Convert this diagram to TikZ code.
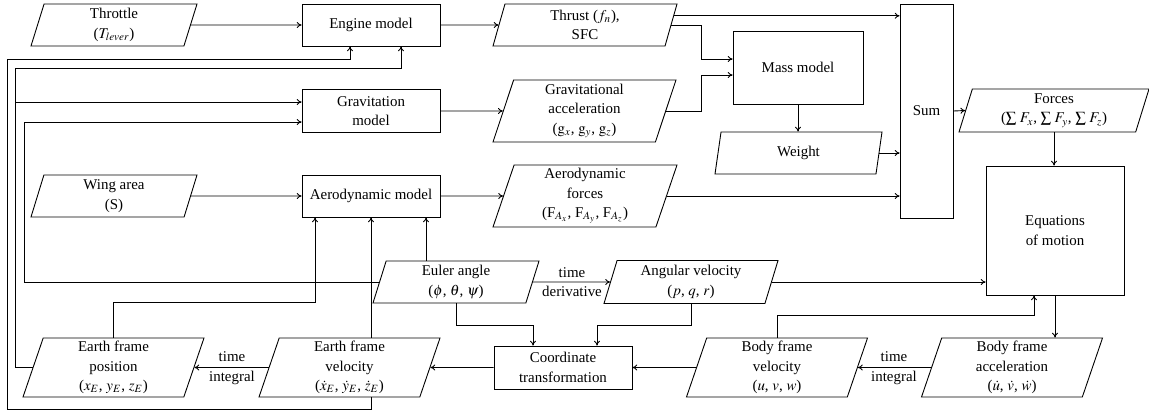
\documentclass[tikz,border=0pt]{standalone}
\usepackage{mathptmx}
\usepackage{fontspec}
\setmainfont{Liberation Serif}
\usetikzlibrary{shapes.geometric,calc,arrows.meta}
\newcommand\pxu[1]{#1*0.67pt}
\tikzset{
  txt/.style={font=\fontsize{10}{13}\selectfont, align=center},
  box/.style={txt, draw, rectangle, inner sep=1pt, line width=0.6pt},
  para/.style={txt, draw, trapezium, trapezium left angle=70, trapezium right angle=110,
    trapezium stretches body, inner sep=1pt, line width=0.6pt},
  lbl/.style={txt, inner sep=1pt},
  arr/.style={-{To[length=3.2pt,width=4pt]}, line width=0.6pt},
  ln/.style={line width=0.6pt}
}
\begin{document}
\begin{tikzpicture}[x=0.67pt,y=-0.67pt]
\useasboundingbox (0,0) rectangle (1149,415);
% nodes
\node[para, minimum width=\pxu{166}, minimum height=\pxu{42}] (thr) at (114,25) {Throttle\\($T_{lever}$)};
\node[box, minimum width=\pxu{138}, minimum height=\pxu{42}] (eng) at (371,25) {Engine model};
\node[para, minimum width=\pxu{184}, minimum height=\pxu{42}] (thrust) at (585,25) {Thrust ($f_n$),\\SFC};
\node[box, minimum width=\pxu{130}, minimum height=\pxu{73}] (mass) at (798,67.5) {Mass model};
\node[box, minimum width=\pxu{53}, minimum height=\pxu{214}] (sum) at (926.5,111) {Sum};
\node[para, minimum width=\pxu{190}, minimum height=\pxu{43}] (forces) at (1054,110.5) {Forces\\($\sum\, F_x$, $\sum\, F_y$, $\sum\, F_z$)};
\node[box, minimum width=\pxu{138}, minimum height=\pxu{43}] (grav) at (371,111) {Gravitation\\model};
\node[para, minimum width=\pxu{183}, minimum height=\pxu{62}] (gacc) at (584.5,111) {Gravitational\\acceleration\\($\mathrm{g}_x$, $\mathrm{g}_y$, $\mathrm{g}_z$)};
\node[para, minimum width=\pxu{167}, minimum height=\pxu{42}] (weight) at (798.5,153) {Weight};
\node[para, minimum width=\pxu{166}, minimum height=\pxu{42}] (wing) at (114,196) {Wing area\\(S)};
\node[box, minimum width=\pxu{138}, minimum height=\pxu{42}] (aero) at (371,196) {Aerodynamic model};
\node[para, minimum width=\pxu{184}, minimum height=\pxu{62}] (aforce) at (585,196) {Aerodynamic\\forces\\(F$_{A_x}$, F$_{A_y}$, F$_{A_z}$)};
\node[box, minimum width=\pxu{138}, minimum height=\pxu{129}] (eom) at (1055,230.5) {Equations\\of motion};
\node[para, minimum width=\pxu{166}, minimum height=\pxu{42}] (euler) at (456,282) {Euler angle\\($\phi$, $\theta$, $\psi$)};
\node[para, minimum width=\pxu{174}, minimum height=\pxu{43}] (angv) at (691,282) {Angular velocity\\($p$, $q$, $r$)};
\node[box, minimum width=\pxu{138}, minimum height=\pxu{43}] (coord) at (563,367.5) {Coordinate\\transformation};
\node[para, minimum width=\pxu{181}, minimum height=\pxu{59}] (bvel) at (777,367.5) {Body frame\\velocity\\($u$, $v$, $w$)};
\node[para, minimum width=\pxu{181}, minimum height=\pxu{59}] (bacc) at (1012,367.5) {Body frame\\acceleration\\($\dot{u}$, $\dot{v}$, $\dot{w}$)};
\node[para, minimum width=\pxu{181}, minimum height=\pxu{59}] (epos) at (113.5,367.5) {Earth frame\\position\\($x_E$, $y_E$, $z_E$)};
\node[para, minimum width=\pxu{181}, minimum height=\pxu{59}] (evel) at (349.5,367.5) {Earth frame\\velocity\\($\dot{x}_E$, $\dot{y}_E$, $\dot{z}_E$)};
% edge labels
\node[lbl] (td) at (572,282) {time\\derivative};
\node[lbl] (ti1) at (232,368) {time\\integral};
\node[lbl] (ti2) at (894,368) {time\\integral};
% helper coordinates
\coordinate (mj) at (701,0);
\coordinate (L2) at (15,0);
\coordinate (L3) at (24,0);
\coordinate (h1) at (7,59);
\coordinate (h2) at (15,68);
\coordinate (e1) at ([xshift=-\pxu{21}]eng.south);
\coordinate (e2) at ([xshift=\pxu{30}]eng.south);
\coordinate (gin1) at ([yshift=\pxu{9}]grav.west);
\coordinate (gin2) at ([yshift=-\pxu{11}]grav.west);
\coordinate (min1) at ([yshift=\pxu{8.5}]mass.west);
\coordinate (min2) at ([yshift=-\pxu{7.5}]mass.west);
\coordinate (a1) at ([xshift=-\pxu{56}]aero.south);
\coordinate (a3) at ([xshift=\pxu{55}]aero.south);
\coordinate (ts) at ($(thrust.top right corner)!0.286!(thrust.bottom right corner)$);
% connectors
\draw[arr] (thr.east) -- (eng.west);
\draw[arr] (eng.east) -- (thrust.west);
\draw[arr] (ts) -- (ts -| sum.west);
\draw[arr] (thrust.east) -- (thrust.east -| mj) |- (min1);
\draw[arr] (gacc.east) -- (gacc.east -| mj) |- (min2);
\draw[arr] (grav.east) -- (gacc.west);
\draw[arr] (mass.south) -- (mass.south |- weight.north);
\draw[arr] (weight.east) -- (weight.east -| sum.west);
\draw[arr] (aforce.east) -- (aforce.east -| sum.west);
\draw[arr] (sum.east) -- (forces.west);
\draw[arr] (forces.south) -- (forces.south |- eom.north);
\draw[arr] (wing.east) -- (aero.west);
\draw[arr] (aero.east) -- (aforce.west);
\draw[arr] (eom.south) -- (eom.south |- bacc.north);
\draw[arr] (bacc.west) -- (bvel.east);
\draw[arr] (bvel.north) -- ++(0,-22) -| ([xshift=-\pxu{21}]eom.south);
\draw[arr] (bvel.west) -- (coord.east);
\draw[arr] (euler.south) -- ++(0,22) -| ([xshift=-\pxu{30}]coord.north);
\draw[arr] (angv.south) -- ++(0,21) -| ([xshift=\pxu{34}]coord.north);
\draw[arr] (coord.west) -- (evel.east);
\draw[arr] (evel.west) -- (epos.east);
\draw[arr] (euler.east) -- (angv.west);
\draw[arr] (angv.east) -- (angv.east -| eom.west);
\draw[arr] (euler.north -| a3) -- (a3);
\draw[arr] (evel.north -| aero.south) -- (aero.south);
\draw[arr] (epos.north) -- ++(0,-35) -| (a1);
\draw[arr] (euler.west) -| (L3 |- gin2) -- (gin2);
\draw[arr] (epos.west) -| (h2) -| (e2);
\draw[arr] (L2 |- gin1) -- (gin1);
\draw[arr] (evel.south -| aero.south) -- ++(0,12) -| (h1) -| (e1);
\end{tikzpicture}
\end{document}
